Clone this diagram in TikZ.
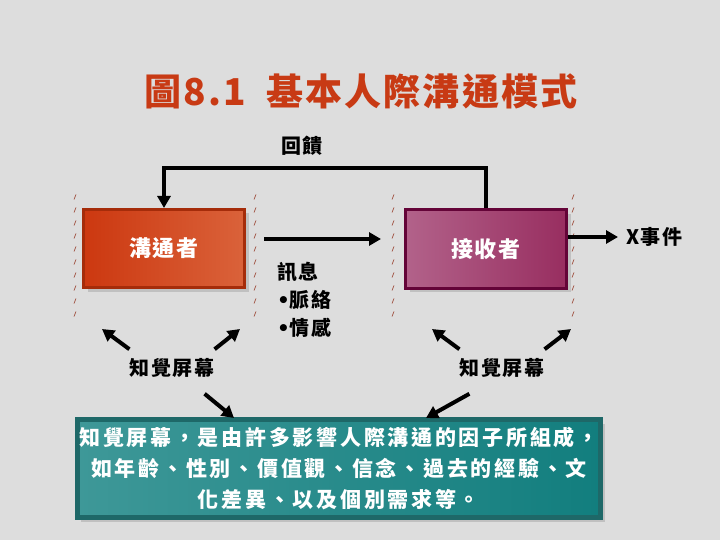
\documentclass[tikz,border=0pt]{standalone}
\usepackage{fontspec}
\setmainfont{Noto Sans CJK TC}
\newfontfamily\labelcjk{Noto Sans CJK TC}[LetterSpace=8]
\newfontfamily\screencjk{Noto Sans CJK TC}[LetterSpace=13]
\newfontfamily\titlecjk{Noto Sans CJK TC}[LetterSpace=6]
\newfontfamily\bulletfont{DejaVu Sans}
\newcommand{\bul}{{\bulletfont\bfseries •}}
\usepackage{tikz}
\usetikzlibrary{arrows.meta,shadows}

\definecolor{bggray}{RGB}{221,221,221}
\definecolor{titlered}{RGB}{200,58,20}
\definecolor{senderL}{RGB}{204,56,16}
\definecolor{senderR}{RGB}{218,98,58}
\definecolor{senderB}{RGB}{165,44,10}
\definecolor{recvL}{RGB}{178,98,138}
\definecolor{recvR}{RGB}{152,46,96}
\definecolor{recvB}{RGB}{100,4,56}
\definecolor{tealL}{RGB}{62,152,152}
\definecolor{tealR}{RGB}{18,126,126}
\definecolor{tealB}{RGB}{30,104,104}
\definecolor{tickred}{RGB}{160,80,64}

\begin{document}
\begin{tikzpicture}[x=1pt, y=-1pt,
    box/.style={draw, line width=3pt, minimum width=161pt, minimum height=78pt, inner sep=2pt, text=white,
      font=\labelcjk\bfseries\fontsize{22}{26}\selectfont,
      drop shadow={shadow xshift=4pt, shadow yshift=-4pt, opacity=0.3}},
    sender/.style={box, left color=senderL, right color=senderR, draw=senderB},
    receiver/.style={box, left color=recvL, right color=recvR, draw=recvB},
    label/.style={inner sep=2pt, font=\labelcjk\bfseries\fontsize{20}{24}\selectfont},
    screenbox/.style={draw=tealB, line width=5pt, left color=tealL, right color=tealR, minimum width=523pt,
      minimum height=98pt, inner sep=2pt, text=white, align=center,
      font=\screencjk\bfseries\fontsize{21}{31}\selectfont,
      drop shadow={shadow xshift=4pt, shadow yshift=-4pt, opacity=0.3}},
    arrow/.style={-{Triangle[length=12pt,width=13pt]}, line width=4pt},
    tick/.style={draw=tickred, line width=0.7pt}
  ]
    \fill[bggray] (0,0) rectangle (720,540);
    \node[text=titlered, font=\titlecjk\bfseries\fontsize{37}{42}\selectfont] (title) at (361,91) {圖8.1\hspace{20pt}基本人際溝通模式};
    \node[label] (feedback) at (302,146) {回饋};
    \node[sender] (sender) at (164,248.5) {溝通者};
    \node[receiver] (receiver) at (486,249) {接收者};
    \node[label, anchor=west] (event) at (624,237) {X事件};
    \node[label, anchor=west, align=left, font=\labelcjk\bfseries\fontsize{20}{28}\selectfont] (message) at (275,300) {訊息\\\bul 脈絡\\\bul 情感};
    \node[label] (psL) at (172,368) {知覺屏幕};
    \node[label] (psR) at (502,368) {知覺屏幕};
    \node[screenbox] (screen) at (339,468.5) {知覺屏幕，是由許多影響人際溝通的因子所組成，\\如年齡、性別、價值觀、信念、過去的經驗、文\\化差異、以及個別需求等。};
    \foreach \x in {75,255,393,573}
      \foreach \y in {197,210,...,314}
        \draw[tick] ({\x-1},{\y+2.5}) -- ({\x+1},{\y-2.5});
    \coordinate (fbTop) at (325,168);
    \coordinate (msgTail) at (264,239);
    \coordinate (msgTip) at (381,239);
    \coordinate (tipLa) at (102,329);
    \coordinate (tipLb) at (240,329);
    \coordinate (tipLc) at (234,418);
    \coordinate (tipRa) at (432,329);
    \coordinate (tipRb) at (571,329);
    \coordinate (tipRc) at (426,418);
    \draw[arrow] (receiver.north) |- (fbTop) -| (sender.north);
    \draw[arrow] (msgTail) -- (msgTip);
    \draw[arrow, shorten >=6pt] (receiver.east |- event.west) -- (event.west);
    \draw[arrow] ([shift={(2,-7)}]psL.north west) -- (tipLa);
    \draw[arrow] ([shift={(-2,-7)}]psL.north east) -- (tipLb);
    \draw[arrow] ([shift={(-12,14)}]psL.south east) -- (tipLc);
    \draw[arrow] ([shift={(2,-7)}]psR.north west) -- (tipRa);
    \draw[arrow] ([shift={(-2,-7)}]psR.north east) -- (tipRb);
    \draw[arrow] ([shift={(12,14)}]psR.south west) -- (tipRc);
  \end{tikzpicture}
\end{document}
